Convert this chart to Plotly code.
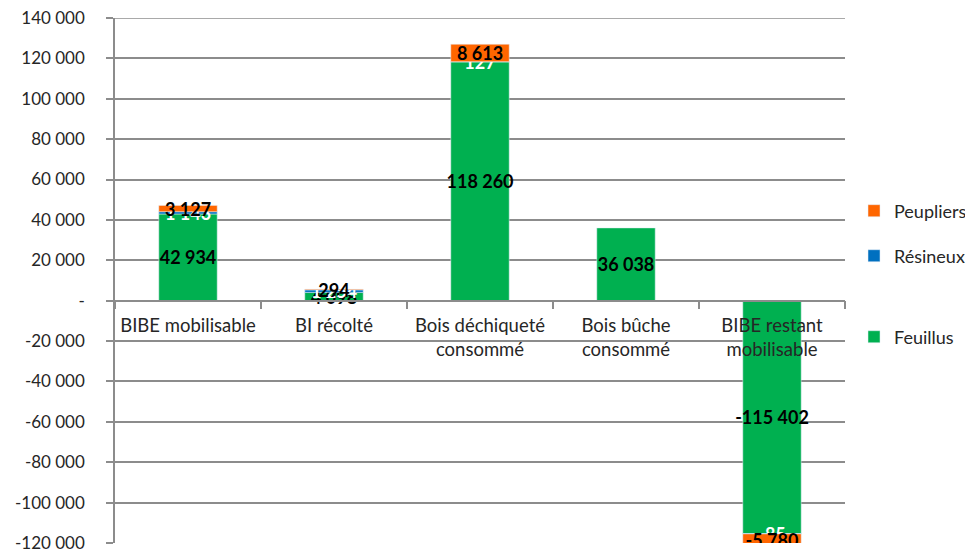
import plotly.graph_objects as go

categories = ["BIBE mobilisable", "BI récolté", "Bois déchiqueté<br>consommé",
              "Bois bûche<br>consommé", "BIBE restant<br>mobilisable"]
feuillus = [42934, 4098, 118260, 36038, -115402]
resineux = [1143, 1254, 127, None, -85]
peupliers = [3127, 294, 8613, None, -5780]

tick_vals = [140000, 120000, 100000, 80000, 60000, 40000, 20000, 0,
             -20000, -40000, -60000, -80000, -100000, -120000]
tick_text = ["140 000", "120 000", "100 000", "80 000", "60 000", "40 000", "20 000", "-",
             "-20 000", "-40 000", "-60 000", "-80 000", "-100 000", "-120 000"]


def fmt(v):
    if v is None:
        return ""
    s = f"{abs(v):,}".replace(",", " ")
    return ("-" if v < 0 else "") + s


series = [
    ("Feuillus", feuillus, "#00B050", "#000000", "legend3"),
    ("Résineux", resineux, "#0070C0", "#FFFFFF", "legend2"),
    ("Peupliers", peupliers, "#FF6600", "#000000", "legend"),
]

TXT = "#262626"
GRID = "#8c8c8c"

fig = go.Figure()
for name, vals, col, tcol, leg in series:
    fig.add_trace(go.Bar(
        name=name, x=categories, y=vals, marker_color=col,
        text=[fmt(v) for v in vals], textposition="inside",
        insidetextanchor="middle", constraintext="none", textangle=0,
        textfont=dict(family="Lato", size=18, color=tcol, weight="bold"),
        legend=leg, showlegend=True,
    ))

zero_pos = 120000 / 260000

leg_common = dict(xref="container", yref="container", x=0.8767, xanchor="left",
                  yanchor="middle", font=dict(family="Lato", size=18, color=TXT),
                  bgcolor="rgba(0,0,0,0)")

fig.update_layout(
    barmode="relative",
    bargap=0.6,
    showlegend=True,
    width=965, height=548,
    margin=dict(l=107, r=128, t=10, b=13, autoexpand=False),
    plot_bgcolor="white", paper_bgcolor="white",
    font=dict(family="Lato", size=17, color=TXT),
    xaxis=dict(
        anchor="free", position=zero_pos, showline=True, linecolor=GRID,
        linewidth=1.5, ticks="outside", tickson="boundaries", ticklen=8,
        tickcolor=GRID, tickwidth=1.5, showgrid=False, automargin=False,
        tickfont=dict(family="Lato", size=18.5, color=TXT), ticklabelstandoff=8,
    ),
    yaxis=dict(
        range=[-120000, 140000], tickvals=tick_vals, ticktext=tick_text,
        showline=True, linecolor=GRID, linewidth=1.5, ticks="outside",
        ticklen=7, tickcolor=GRID, tickwidth=1.5, automargin=False,
        showgrid=True, gridcolor=GRID, gridwidth=1.5, zeroline=False,
        tickfont=dict(family="Lato", size=17, color=TXT), ticklabelstandoff=18,
        ticklabeloverflow="allow",
    ),
    legend=dict(y=0.6296, **leg_common),
    legend2=dict(y=0.5474, **leg_common),
    legend3=dict(y=0.3996, **leg_common),
)

# top gridline (plotly omits the gridline at the range edge)
fig.add_shape(type="line", xref="paper", yref="y", x0=0, x1=1,
              y0=max(tick_vals), y1=max(tick_vals), layer="below",
              line=dict(color=GRID, width=1.5))

fig.write_html("out.html")
